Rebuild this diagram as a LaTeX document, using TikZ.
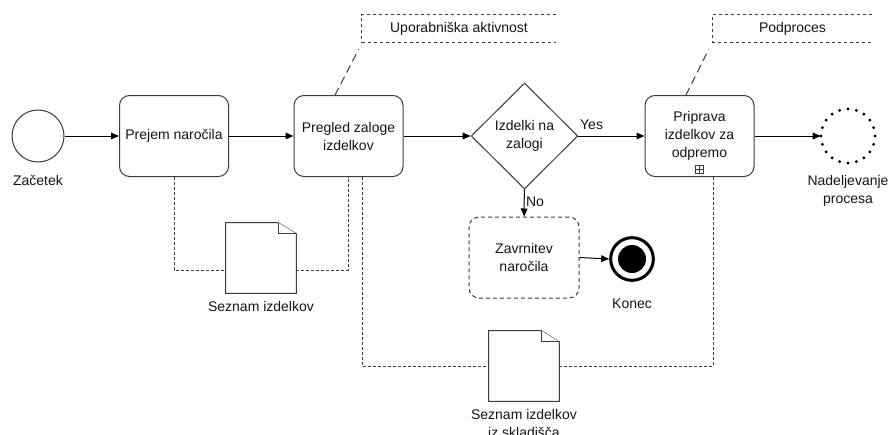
\documentclass[tikz,border=0pt]{standalone}
\usepackage{fontspec}
\setmainfont{Liberation Sans}
\usetikzlibrary{shapes.geometric,arrows.meta,calc}
\definecolor{lc}{RGB}{60,60,60}
\definecolor{tc}{RGB}{20,20,20}
\begin{document}
\begin{tikzpicture}[x=0.75pt,y=-0.75pt,
  every node/.style={font=\fontsize{10.5}{13.5}\selectfont, text=tc},
  event/.style={circle, draw=lc, line width=0.75pt, minimum size=39pt, inner sep=0},
  task/.style={draw=lc, line width=0.75pt, rounded corners=7.5pt,
    minimum width=81.75pt, minimum height=60.75pt, align=center, inner sep=2pt},
  gateway/.style={diamond, draw=lc, line width=0.75pt, minimum width=80pt,
    minimum height=79.5pt, inner sep=0, align=center},
  doc/.style={minimum width=52.5pt, minimum height=52.5pt, inner sep=0},
  docline/.style={draw=lc, line width=0.75pt, line join=miter},
  flow/.style={-{Triangle[length=6pt,width=5pt]}, line width=0.75pt, draw=black},
  assoc/.style={draw=lc, line width=0.75pt, dash pattern=on 2.25pt off 1.5pt},
  notelink/.style={draw=lc, line width=0.75pt, dash pattern=on 6pt off 3.5pt},
  bracket/.style={draw=lc, line width=0.75pt, dash pattern=on 2.25pt off 2.25pt},
  note/.style={inner sep=0, minimum height=20.25pt},
  caption/.style={align=center}
]
\useasboundingbox (0,0) rectangle (888,435);

% events
\node[event] (start) at (38,136) {};
\node[caption] (startlbl) at (38,180) {Začetek};

% tasks
\node[task] (t1) at (174,136) {Prejem naročila};
\node[task] (t2) at (348.5,136) {Pregled zaloge\\izdelkov};
\node[gateway] (gw) at (524.5,136) {Izdelki na\\zalogi};
\node[task] (t3) at (699.5,136) {Priprava\\izdelkov za\\odpremo};
\node[task, dash pattern=on 3pt off 2.25pt, rounded corners=7.5pt,
      minimum width=82.5pt] (rej) at (524,257.5) {Zavrnitev\\naročila};

% collapsed sub-process marker
\node[draw=lc, line width=0.6pt, minimum size=6pt, inner sep=0] (mk) at ($(t3.south)+(0,-8)$) {};
\draw[lc, line width=0.6pt] (mk.north) -- (mk.south) (mk.west) -- (mk.east);

% end event
\node[circle, draw=black, line width=2.25pt, minimum size=32pt, inner sep=0] (endev) at (632,259) {};
\fill[black] (endev) circle (10.5pt);
\node[caption] (endlbl) at (632,304) {Konec};

% intermediate (dotted) event
\node[circle, minimum size=40.5pt, inner sep=0] (cont) at (848,136) {};
\foreach \a in {0,18,...,342}
  \fill[black] ($(cont.center)+(\a:27)$) circle (1.2pt);
\node[caption] (contlbl) at (848,191) {Nadeljevanje\\procesa};

% data objects
\node[doc] (d1) at (261,258) {};
\node[doc] (d2) at (524,366) {};
\foreach \d in {d1,d2}{
  \draw[docline, fill=white] (\d.south west) -- (\d.north west) -- ($(\d.north east)+(-18,0)$)
    -- ($(\d.north east)+(0,11)$) -- (\d.south east) -- cycle;
  \draw[docline, fill=white] ($(\d.north east)+(-18,0)$) -- ($(\d.north east)+(-18,11)$)
    -- ($(\d.north east)+(0,11)$);
}
\node[caption] (d1lbl) at (261,306) {Seznam izdelkov};
\node[caption] (d2lbl) at (524,423) {Seznam izdelkov\\iz skladišča};

% text annotations
\node[note, minimum width=145.5pt] (a1) at (459,28.5) {Uporabniška aktivnost};
\node[note, minimum width=119.25pt] (a2) at (792.5,28.5) {Podproces};
\draw[bracket] (a1.north east) -- (a1.north west) -- (a1.south west) -- (a1.south east);
\draw[bracket] (a2.north east) -- (a2.north west) -- (a2.south west) -- (a2.south east);
\draw[notelink] ($(t2.north)+(-13.5,0)$) -- ($(a1.south west)+(-3,7)$);
\draw[notelink] ($(t3.north)+(-13.5,0)$) -- ($(a2.south west)+(-4,7)$);

% sequence flows
\draw[flow] (start) -- (t1);
\draw[flow] (t1) -- (t2);
\draw[flow] (t2) -- (gw);
\draw[flow] (gw) -- node[above, pos=0.2, yshift=1pt] (yes) {Yes} (t3);
\draw[flow] (t3) -- (cont);
\draw[flow] (gw) -- node[right, pos=0.45, inner sep=1pt] (no) {No} (rej);
\draw[flow] (rej.east) -- (endev.west);

% data associations
\draw[assoc] (t1.south) |- ($(d1.west)+(0,12)$);
\draw[assoc] ($(d1.east)+(0,12)$) -| (t2.south);
\draw[assoc] ($(t2.south)+(13.5,0)$) |- (d2.west);
\draw[assoc] (d2.east) -| ($(t3.south)+(13.5,0)$);
\end{tikzpicture}
\end{document}
